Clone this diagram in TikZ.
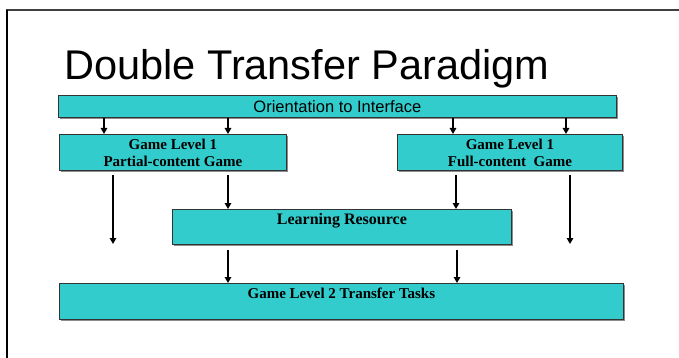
\documentclass[tikz,border=0pt]{standalone}
\usepackage{fontspec}
\setmainfont{Liberation Serif}
\newfontfamily\arialfont{Liberation Sans}
\usetikzlibrary{arrows.meta,shadows}
\definecolor{teal1}{HTML}{33CCCC}
\tikzset{
  box/.style={draw=black!80, line width=0.8pt, fill=teal1, inner sep=0pt, anchor=north west,
    drop shadow={shadow xshift=2pt, shadow yshift=-2pt, fill=black!45, opacity=1}},
  lbl/.style={font=\fontsize{15}{17}\selectfont\bfseries, align=center, inner sep=0pt},
  arr/.style={draw=black, line width=1.6pt, -{Triangle[length=6pt,width=6.5pt]}},
  frame/.style={line width=2pt}
}
\begin{document}
\begin{tikzpicture}[x=1pt,y=-1pt]
\useasboundingbox (0,0) rectangle (679,358);
% frame
\draw[frame, black!75] (6,10) -- (679,10);
\draw[frame, black] (7,10) -- (7,358);
% title
\node[anchor=base west, inner sep=0pt, font=\arialfont\fontsize{41.5}{46}\selectfont] (title) at (64,80) {Double Transfer Paradigm};
% boxes
\node[box, minimum width=558pt, minimum height=22pt] (ori) at (58,95) {};
\node[font=\arialfont\fontsize{16.5}{18}\selectfont, inner sep=0pt] (oritext) at (ori.center) {Orientation to Interface};
\node[box, minimum width=227pt, minimum height=36pt] (gl1p) at (59,134) {};
\node[lbl] (gl1ptext) at (gl1p.center) {Game Level 1\\Partial-content Game};
\node[box, minimum width=225pt, minimum height=36pt] (gl1f) at (397,134) {};
\node[lbl] (gl1ftext) at (gl1f.center) {Game Level 1\\Full-content\ \ Game};
\node[box, minimum width=339pt, minimum height=35pt] (lr) at (172,209) {};
\node[lbl, font=\fontsize{16}{18}\selectfont\bfseries, anchor=base] (lrtext) at ([yshift=-15pt]lr.north) {Learning Resource};
\node[box, minimum width=564pt, minimum height=36pt] (gl2) at (59,283) {};
\node[lbl, anchor=base] (gl2text) at ([yshift=-15pt]gl2.north) {Game Level 2 Transfer Tasks};
% free ends
\coordinate (le) at (113,244);
\coordinate (re) at (570,244);
% arrows
\draw[arr] (ori.south -| 104,0) -- (gl1p.north -| 104,0);
\draw[arr] (ori.south -| 228,0) -- (gl1p.north -| 228,0);
\draw[arr] (ori.south -| 453,0) -- (gl1f.north -| 453,0);
\draw[arr] (ori.south -| 566,0) -- (gl1f.north -| 566,0);
\draw[arr] ([yshift=-4pt]gl1p.south -| le) -- (le);
\draw[arr] ([yshift=-4pt]gl1p.south -| 228,0) -- (lr.north -| 228,0);
\draw[arr] ([yshift=-4pt]gl1f.south -| 456,0) -- (lr.north -| 456,0);
\draw[arr] ([yshift=-4pt]gl1f.south -| re) -- (re);
\draw[arr] ([yshift=-5pt]lr.south -| 228,0) -- (gl2.north -| 228,0);
\draw[arr] ([yshift=-5pt]lr.south -| 457,0) -- (gl2.north -| 457,0);
\end{tikzpicture}
\end{document}
